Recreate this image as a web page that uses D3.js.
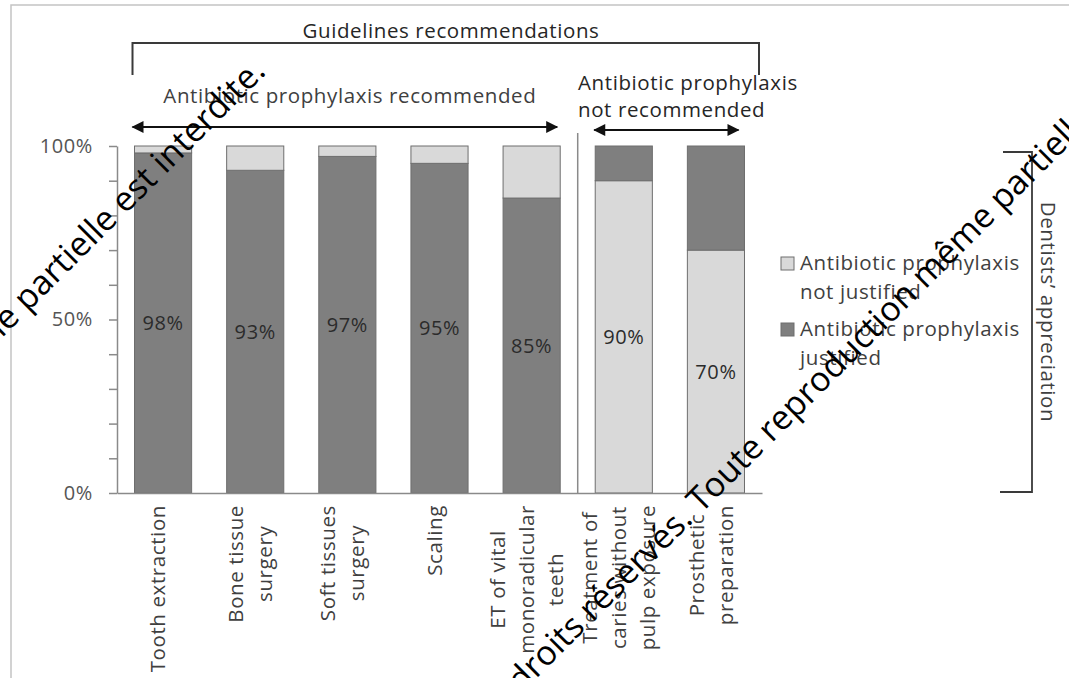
<!DOCTYPE html>
<html>
<head>
<meta charset="utf-8">
<script src="https://cdn.jsdelivr.net/npm/d3@7"></script>
<style>
  html, body { margin: 0; padding: 0; background: #fff; }
  svg { display: block; font-family: "Open Sans", Lato, sans-serif; }
  .lbl { letter-spacing: 0.6px; }
</style>
</head>
<body>
<svg id="chart" width="1069" height="678"></svg>
<script>
// ---- data ----
const categories = [
  "Tooth extraction",
  "Bone tissue surgery",
  "Soft tissues surgery",
  "Scaling",
  "ET of vital monoradicular teeth",
  "Treatment of caries without pulp exposure",
  "Prosthetic preparation"
];
const categoryLines = [
  ["Tooth extraction"],
  ["Bone tissue", "surgery"],
  ["Soft tissues", "surgery"],
  ["Scaling"],
  ["ET of vital", "monoradicular", "teeth"],
  ["Treatment of", "caries without", "pulp exposure"],
  ["Prosthetic", "preparation"]
];
const guideline = ["recommended", "recommended", "recommended", "recommended", "recommended",
                   "not recommended", "not recommended"];
const justified    = [98, 93, 97, 95, 85, 10, 30];
const notJustified = [2, 7, 3, 5, 15, 90, 70];
const yTicks = [0, 10, 20, 30, 40, 50, 60, 70, 80, 90, 100];
const yTickLabels = { 0: "0%", 50: "50%", 100: "100%" };
const legendItems = [
  { key: "notJustified", lines: ["Antibiotic prophylaxis", "not justified"] },
  { key: "justified", lines: ["Antibiotic prophylaxis", "justified"] }
];
const notice = "Toute reproduction même partielle est interdite.";
const rights = "Tous droits réservés.";

// ---- styles ----
const colors = { justified: "#7f7f7f", notJustified: "#d9d9d9" };
const barStroke = "#6e6e6e";
const axisColor = "#8a8a8a";
const textColor = "#404040";
const fontSize = 20.5;

const svg = d3.select("#chart");
const plot = { left: 117, right: 762, top: 146, bottom: 493 };

const x = d3.scaleBand()
  .domain(categories)
  .range([plot.left, plot.right])
  .paddingInner(0.38)
  .paddingOuter(0.19);

const y = d3.scaleLinear().domain([0, 100]).range([plot.bottom, plot.top]);

// outer frame (top and left edges)
svg.append("path")
  .attr("d", "M11,678 V5 H1069")
  .attr("fill", "none").attr("stroke", "#c4c4c4").attr("stroke-width", 1.5);

// ---- bars: the labelled series sits at the bottom of each stack ----
const rows = categories.map((c, i) => {
  const rec = guideline[i] === "recommended";
  const bottomKey = rec ? "justified" : "notJustified";
  const topKey = rec ? "notJustified" : "justified";
  const vals = { justified: justified[i], notJustified: notJustified[i] };
  return { cat: c, bottomKey, topKey, bottom: vals[bottomKey], top: vals[topKey] };
});

const barG = svg.append("g");
rows.forEach(r => {
  barG.append("rect")
    .attr("x", x(r.cat)).attr("width", x.bandwidth())
    .attr("y", y(r.bottom)).attr("height", y(0) - y(r.bottom))
    .attr("fill", colors[r.bottomKey]).attr("stroke", barStroke).attr("stroke-width", 1);
  barG.append("rect")
    .attr("x", x(r.cat)).attr("width", x.bandwidth())
    .attr("y", y(r.bottom + r.top)).attr("height", y(r.bottom) - y(r.bottom + r.top))
    .attr("fill", colors[r.topKey]).attr("stroke", barStroke).attr("stroke-width", 1);
  barG.append("text")
    .attr("class", "lbl")
    .attr("x", x(r.cat) + x.bandwidth() / 2)
    .attr("y", (y(0) + y(r.bottom)) / 2)
    .attr("dy", "0.35em")
    .attr("text-anchor", "middle")
    .attr("font-size", fontSize - 0.5)
    .attr("fill", "#2b2b2b")
    .text(r.bottom + "%");
});

// ---- axes ----
const yAxis = svg.append("g")
  .attr("transform", `translate(${plot.left},0)`)
  .call(d3.axisLeft(y).tickValues(yTicks).tickSize(8).tickSizeOuter(0).tickPadding(16)
    .tickFormat(d => yTickLabels[d] || ""));
yAxis.selectAll("path, line").attr("stroke", axisColor).attr("stroke-width", 1.5);
yAxis.selectAll("text").attr("class", "lbl").attr("font-size", fontSize - 0.5).attr("fill", "#555")
  .attr("font-family", "'Open Sans', sans-serif");

const xAxis = svg.append("g")
  .attr("transform", `translate(0,${plot.bottom})`)
  .call(d3.axisBottom(x).tickSize(0).tickSizeOuter(0).tickFormat(""));
xAxis.select(".domain").attr("stroke", axisColor).attr("stroke-width", 1.5);

// rotated category labels, lines centred on each other, top-aligned under the axis
const lineH = 29;
categories.forEach((c, i) => {
  const lines = categoryLines[i];
  const g = svg.append("g")
    .attr("transform", `translate(${x(c) + x.bandwidth() / 2 - 5},${plot.bottom + 12}) rotate(-90)`);
  const texts = lines.map((ln, j) => g.append("text")
    .attr("class", "lbl")
    .attr("y", (j - (lines.length - 1) / 2) * lineH)
    .attr("dy", "0.35em")
    .attr("text-anchor", "middle")
    .attr("font-size", fontSize)
    .attr("fill", textColor)
    .text(ln));
  const maxLen = d3.max(texts, t => t.node().getComputedTextLength());
  texts.forEach(t => t.attr("x", -maxLen / 2));
});

// divider between the two guideline groups
const divX = (x(categories[4]) + x.bandwidth() + x(categories[5])) / 2;
svg.append("line")
  .attr("x1", divX).attr("x2", divX).attr("y1", 133).attr("y2", plot.bottom)
  .attr("stroke", axisColor).attr("stroke-width", 1.5);

// ---- annotations ----
const defs = svg.append("defs");
defs.append("marker")
  .attr("id", "arrow").attr("viewBox", "0 0 12 12")
  .attr("refX", 11).attr("refY", 6)
  .attr("markerWidth", 13).attr("markerHeight", 12)
  .attr("markerUnits", "userSpaceOnUse")
  .attr("orient", "auto-start-reverse")
  .append("path").attr("d", "M0,0 L12,6 L0,12 Z").attr("fill", "#111");

const bracketLeft = x(categories[0]) - 2;
const bracketRight = plot.right - 3;
svg.append("path")
  .attr("d", `M${bracketLeft},75 V43 H${bracketRight} V75`)
  .attr("fill", "none").attr("stroke", "#3a3a3a").attr("stroke-width", 2);
svg.append("text")
  .attr("class", "lbl")
  .attr("x", 451).attr("y", 38).attr("text-anchor", "middle")
  .attr("font-size", fontSize).attr("fill", "#262626")
  .text("Guidelines recommendations");

const recStart = bracketLeft;
const recEnd = x(categories[4]) + x.bandwidth() - 3;
svg.append("line")
  .attr("x1", recStart).attr("x2", recEnd).attr("y1", 127).attr("y2", 127)
  .attr("stroke", "#111").attr("stroke-width", 1.8)
  .attr("marker-start", "url(#arrow)").attr("marker-end", "url(#arrow)");
svg.append("text")
  .attr("class", "lbl")
  .attr("x", (recStart + recEnd) / 2 + 5).attr("y", 103).attr("text-anchor", "middle")
  .attr("font-size", fontSize).attr("fill", textColor)
  .text("Antibiotic prophylaxis recommended");

const nrStart = x(categories[5]) - 1;
const nrEnd = x(categories[6]) + x.bandwidth() - 6;
svg.append("line")
  .attr("x1", nrStart).attr("x2", nrEnd).attr("y1", 130).attr("y2", 130)
  .attr("stroke", "#111").attr("stroke-width", 2.2)
  .attr("marker-start", "url(#arrow)").attr("marker-end", "url(#arrow)");
const nrText = svg.append("text").attr("class", "lbl").attr("font-size", fontSize).attr("fill", "#262626");
nrText.append("tspan").attr("x", 578).attr("y", 90).text("Antibiotic prophylaxis");
nrText.append("tspan").attr("x", 578).attr("y", 117).text("not recommended");

// ---- legend ----
const legend = svg.append("g").attr("transform", "translate(781,257)");
legendItems.forEach((item, i) => {
  const g = legend.append("g").attr("transform", `translate(0,${i * 66})`);
  g.append("rect").attr("width", 13).attr("height", 13)
    .attr("fill", colors[item.key]).attr("stroke", barStroke).attr("stroke-width", 1);
  const t = g.append("text").attr("class", "lbl").attr("font-size", fontSize).attr("fill", textColor);
  item.lines.forEach((ln, j) => t.append("tspan").attr("x", 19).attr("y", 13 + j * 29).text(ln));
});

// right-hand bracket
svg.append("path")
  .attr("d", `M1003,${plot.top + 6} H1032 V${plot.bottom - 1} H1000`)
  .attr("fill", "none").attr("stroke", "#3a3a3a").attr("stroke-width", 1.8);
svg.append("text")
  .attr("class", "lbl")
  .attr("transform", "translate(1041,312) rotate(90)")
  .attr("text-anchor", "middle")
  .attr("font-size", fontSize).attr("fill", textColor)
  .text("Dentists\u2019 appreciation");

// ---- copyright notice ----
const wm = svg.append("g").attr("font-size", 34).attr("fill", "#000");
wm.append("text")
  .attr("transform", "translate(267,73) rotate(-45)")
  .attr("text-anchor", "end")
  .text(notice);
wm.append("text")
  .attr("transform", "translate(701,514) rotate(-45)")
  .attr("text-anchor", "start")
  .text(notice);
wm.append("text")
  .attr("transform", "translate(694,521) rotate(-45)")
  .attr("text-anchor", "end")
  .text(rights);
</script>
</body>
</html>
